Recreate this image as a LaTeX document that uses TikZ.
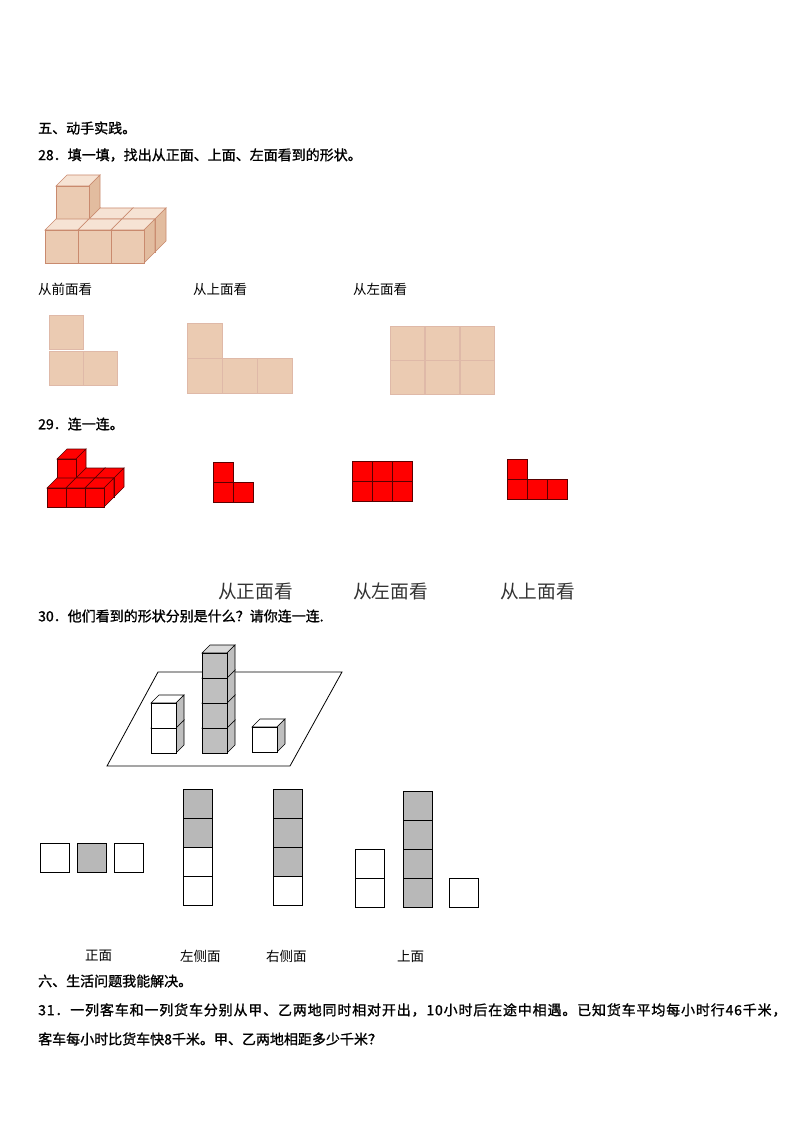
\documentclass[tikz,border=0pt]{standalone}
\usepackage{fontspec}
\newfontfamily\cjk{Noto Sans CJK SC}
\newfontfamily\cjkb[FakeBold=1.2]{Noto Sans CJK SC}
\newfontfamily\cjkbw[FakeBold=1.2,LetterSpace=6]{Noto Sans CJK SC}
\definecolor{tanF}{HTML}{EBCBB2}
\definecolor{tanT}{HTML}{F6E3D4}
\definecolor{tanR}{HTML}{E2BC9F}
\definecolor{tanE}{HTML}{C98A6E}
\definecolor{redE}{HTML}{5A0000}
\newcommand{\mycube}[7]{% x y s d front top right
  \filldraw[fill=#6] (#1,#2) -- ++(#4,-#4) -- ++(#3,0) -- ++(-#4,#4) -- cycle;
  \filldraw[fill=#7] (#1+#3,#2) -- ++(#4,-#4) -- ++(0,#3) -- ++(-#4,#4) -- cycle;
  \filldraw[fill=#5] (#1,#2) rectangle ++(#3,#3);}
\newcommand{\sq}[4]{\filldraw[fill=#4] (#1,#2) rectangle ++(#3,#3);}
\begin{document}
\begin{tikzpicture}[x=1pt,y=-1pt,
  q/.style={anchor=west,inner sep=0pt,font=\cjkb\fontsize{14}{16}\selectfont},
  lab/.style={anchor=west,inner sep=0pt,font=\cjk\fontsize{13.5}{15}\selectfont},
  big/.style={anchor=west,inner sep=0pt,text=black!80,font=\cjk\fontsize{18.7}{21}\selectfont}]
\useasboundingbox (0,0) rectangle (794,1123);
\node[q] (t1) at (38,128) {五、动手实践。};
\node[q] (t2) at (38,155) {28．填一填，找出从正面、上面、左面看到的形状。};
% tan 3D
\begin{scope}[draw=tanE,line width=0.7pt]
\foreach \i in {0,1,2} {\mycube{56+33*\i}{219}{33}{11}{tanF}{tanT}{tanR}}
\mycube{56}{186}{33}{11}{tanF}{tanT}{tanR}
\foreach \i in {0,1,2} {\mycube{45+33*\i}{230}{33}{11}{tanF}{tanT}{tanR}}
\end{scope}
\node[lab] (l1) at (38,289) {从前面看};
\node[lab] (l2) at (193,289) {从上面看};
\node[lab] (l3) at (353,289) {从左面看};
\begin{scope}[draw=tanE!60,line width=0.6pt]
\sq{49}{315}{34}{tanF}\sq{49}{351}{34}{tanF}\sq{83}{351}{34}{tanF}
\sq{187}{323}{35}{tanF}\sq{187}{358}{35}{tanF}\sq{222}{358}{35}{tanF}\sq{257}{358}{35}{tanF}
\foreach \i in {0,1,2} {\sq{390+35*\i}{326}{34}{tanF}\sq{390+35*\i}{360}{34}{tanF}}
\end{scope}
\node[q] (t3) at (38,424) {29．连一连。};
\begin{scope}[draw=redE,line width=0.6pt]
\foreach \i in {0,1,2} {\mycube{57+19*\i}{478}{19}{10}{red}{red}{red}}
\mycube{57}{459}{19}{10}{red}{red}{red}
\foreach \i in {0,1,2} {\mycube{47+19*\i}{488}{19}{10}{red}{red}{red}}
\sq{213}{462}{20}{red}\sq{213}{482}{20}{red}\sq{233}{482}{20}{red}
\foreach \i in {0,1,2} {\sq{352+20*\i}{461}{20}{red}\sq{352+20*\i}{481}{20}{red}}
\sq{507}{459}{20}{red}\sq{507}{479}{20}{red}\sq{527}{479}{20}{red}\sq{547}{479}{20}{red}
\end{scope}
\node[big] (b1) at (218,591) {从正面看};
\node[big] (b2) at (353,591) {从左面看};
\node[big] (b3) at (500,591) {从上面看};
\node[q] (t4) at (38,616) {30．他们看到的形状分别是什么？请你连一连.};
\draw[line width=0.8pt] (158,672) -- (342,672) -- (290,766) -- (107,766) -- cycle;
\begin{scope}[draw=black,line width=0.6pt]
\mycube{151}{728}{25}{8}{white}{white}{black!25}
\mycube{151}{703}{25}{8}{white}{white}{black!25}
\foreach \j in {3,2,1,0} {\mycube{202}{653+25*\j}{25}{8}{black!25}{black!15}{black!25}}
\mycube{252}{727}{25}{8}{white}{white}{black!25}
\sq{40}{843}{29}{white}\sq{77}{843}{29}{black!28}\sq{114}{843}{29}{white}
\sq{183}{789}{29}{black!28}\sq{183}{818}{29}{black!28}\sq{183}{847}{29}{white}\sq{183}{876}{29}{white}
\sq{273}{789}{29}{black!28}\sq{273}{818}{29}{black!28}\sq{273}{847}{29}{black!28}\sq{273}{876}{29}{white}
\sq{355}{849}{29}{white}\sq{355}{878}{29}{white}
\foreach \j in {0,1,2,3} {\sq{403}{791+29*\j}{29}{black!28}}
\sq{449}{878}{29}{white}
\end{scope}
\node[lab] (c1) at (85,956) {正面};
\node[lab] (c2) at (180,956) {左侧面};
\node[lab] (c3) at (266,956) {右侧面};
\node[lab] (c4) at (397,956) {上面};
\node[q] (t5) at (38,981) {六、生活问题我能解决。};
\node[q,font=\cjkbw\fontsize{14}{16}\selectfont] (t6) at (38,1010) {31．一列客车和一列货车分别从甲、乙两地同时相对开出，10小时后在途中相遇。已知货车平均每小时行46千米，};
\node[q] (t7) at (38,1039) {客车每小时比货车快8千米。甲、乙两地相距多少千米？};
\end{tikzpicture}
\end{document}
